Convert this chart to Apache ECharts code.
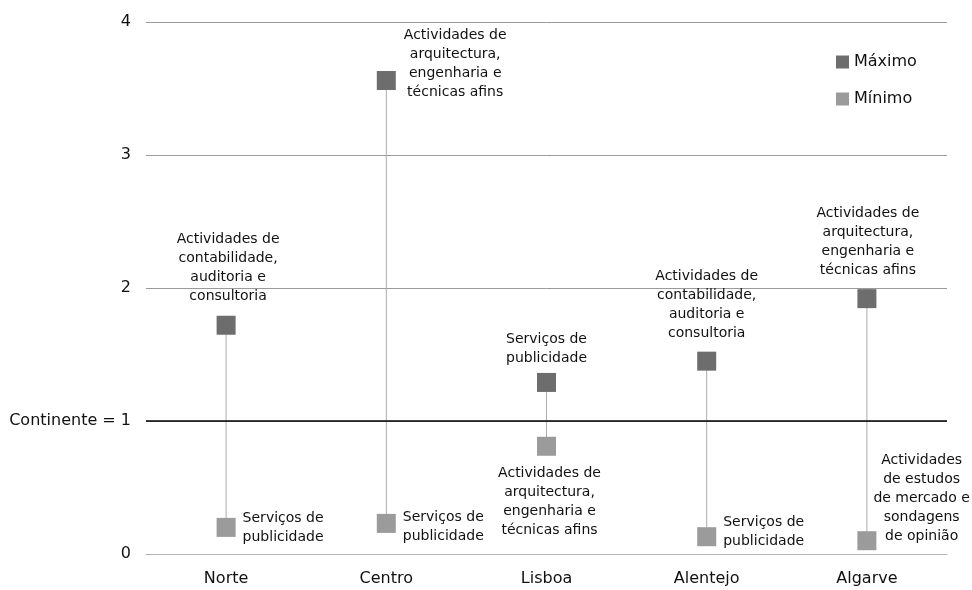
<!DOCTYPE html>
<html><head><meta charset="utf-8">
<script src="https://cdn.jsdelivr.net/npm/echarts@6/dist/echarts.min.js"></script>
<style>html,body{margin:0;padding:0;background:#fff}#c{width:972px;height:590px}</style>
</head><body><div id="c"></div>
<script>
const categories = ['Norte', 'Centro', 'Lisboa', 'Alentejo', 'Algarve'];
const maxValues = [1.72, 3.56, 1.29, 1.45, 1.92];
const minValues = [0.20, 0.23, 0.81, 0.13, 0.10];
const maxLabels = [
  'Actividades de\ncontabilidade,\nauditoria e\nconsultoria',
  'Actividades de\narquitectura,\nengenharia e\ntécnicas afins',
  'Serviços de\npublicidade',
  'Actividades de\ncontabilidade,\nauditoria e\nconsultoria',
  'Actividades de\narquitectura,\nengenharia e\ntécnicas afins'
];
const minLabels = [
  'Serviços de\npublicidade',
  'Serviços de\npublicidade',
  'Actividades de\narquitectura,\nengenharia e\ntécnicas afins',
  'Serviços de\npublicidade',
  'Actividades\nde estudos\nde mercado e\nsondagens\nde opinião'
];
const yTicks = {0: '0', 1: 'Continente = 1', 2: '2', 3: '3', 4: '4'};

// label placement (layout only)
const maxPlace = [
  {position: 'top', distance: 10, offset: [2, 0]},
  {position: 'right', distance: 8, offset: [0, -17]},
  {position: 'top', distance: 5, offset: [0, 0]},
  {position: 'top', distance: 9, offset: [0, 0]},
  {position: 'top', distance: 9, offset: [1, 0]}
];
const minPlace = [
  {position: 'right', distance: 7, offset: [0, 0]},
  {position: 'right', distance: 7, offset: [0, 3]},
  {position: 'bottom', distance: 8, offset: [3, 0]},
  {position: 'right', distance: 7, offset: [0, -5]},
  {position: 'right', distance: 2, offset: [-5, -42]}
];

const FONT = '"DejaVu Sans", sans-serif';
function richText(s) { return s.split('\n').map(l => '{c|' + l + '}').join('\n'); }
const rich = {c: {fontSize: 14, lineHeight: 19, align: 'center', color: '#111', fontFamily: FONT}};

function mk(values, labels, place) {
  return values.map((v, i) => ({
    value: [i, v],
    label: Object.assign({show: true, formatter: richText(labels[i]), rich: rich}, place[i])
  }));
}

const chart = echarts.init(document.getElementById('c'), null, {renderer: 'canvas'});
chart.setOption({
  animation: false,
  textStyle: {fontFamily: FONT},
  grid: {left: 146, right: 25, top: 22, bottom: 36, containLabel: false},
  legend: {
    orient: 'vertical', left: 836, top: 54, itemWidth: 13, itemHeight: 13, itemGap: 21, padding: 0,
    textStyle: {fontSize: 16, color: '#111', fontFamily: FONT},
    data: [{name: 'Máximo', icon: 'rect'}, {name: 'Mínimo', icon: 'rect'}]
  },
  xAxis: {
    type: 'category', data: categories, boundaryGap: true,
    axisLine: {show: true, lineStyle: {color: '#b4b4b4', width: 1}},
    axisTick: {show: false},
    axisLabel: {fontSize: 16, color: '#111', margin: 17, fontFamily: FONT}
  },
  yAxis: {
    type: 'value', min: 0, max: 4, interval: 1,
    axisLine: {show: false}, axisTick: {show: false},
    splitLine: {lineStyle: {color: '#9a9a9a', width: 1}},
    axisLabel: {fontSize: 16, color: '#111', margin: 15, fontFamily: FONT,
      formatter: v => yTicks[v] !== undefined ? yTicks[v] : ''}
  },
  series: [
    {
      type: 'custom', name: 'range', silent: true, z: 1,
      data: categories.map((c, i) => [i, minValues[i], maxValues[i]]),
      renderItem: function (params, api) {
        const p1 = api.coord([api.value(0), api.value(1)]);
        const p2 = api.coord([api.value(0), api.value(2)]);
        return {type: 'line', shape: {x1: p1[0], y1: p1[1], x2: p2[0], y2: p2[1]},
          style: {stroke: '#ababab', lineWidth: 1}};
      },
      markLine: {
        silent: true, symbol: 'none', label: {show: false},
        lineStyle: {color: '#000', width: 1.5, type: 'solid'},
        data: [{yAxis: 1}]
      }
    },
    {
      type: 'scatter', name: 'Máximo', symbol: 'rect', symbolSize: 19, z: 3,
      itemStyle: {color: '#6d6d6d', opacity: 1},
      data: mk(maxValues, maxLabels, maxPlace)
    },
    {
      type: 'scatter', name: 'Mínimo', symbol: 'rect', symbolSize: 19, z: 3,
      itemStyle: {color: '#9b9b9b', opacity: 1},
      data: mk(minValues, minLabels, minPlace)
    }
  ]
});
</script></body></html>
